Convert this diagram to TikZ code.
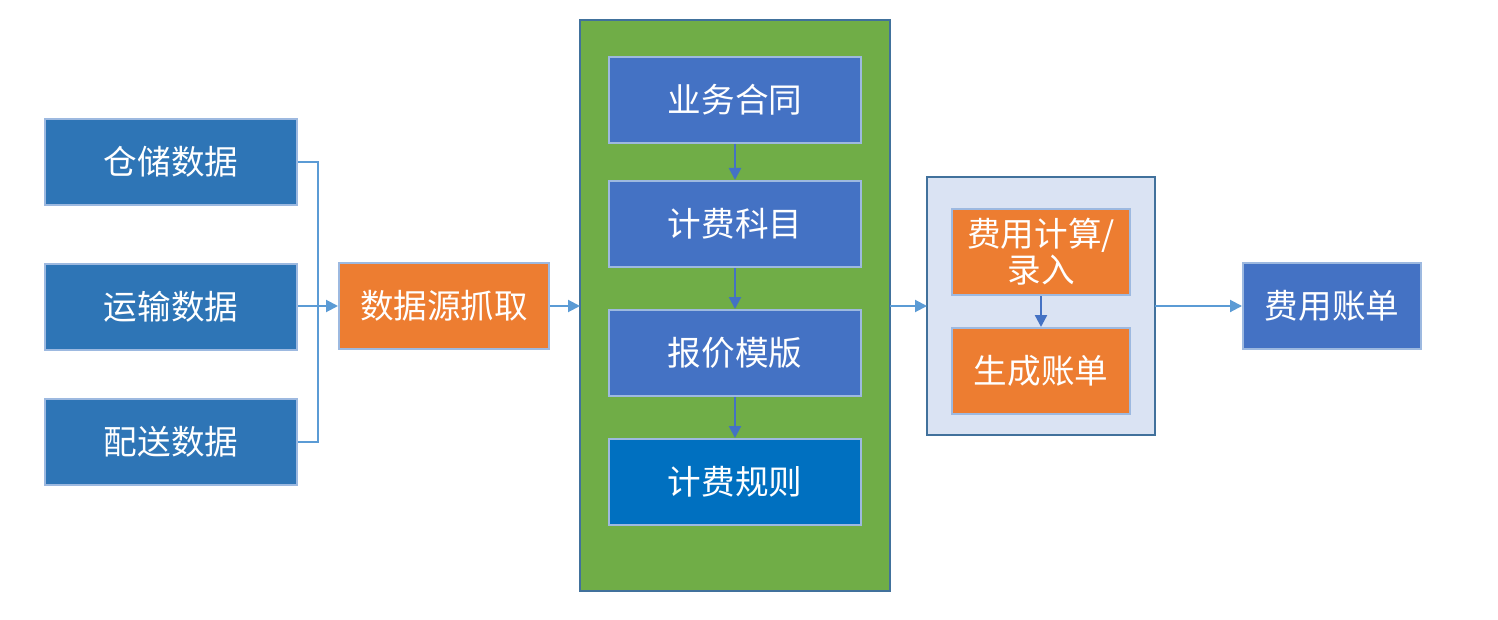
\documentclass[tikz,border=0pt]{standalone}
\usepackage{fontspec}
\setmainfont{Noto Sans CJK SC}
\usetikzlibrary{arrows.meta,positioning}
\definecolor{dblue}{HTML}{2E75B6}
\definecolor{mblue}{HTML}{4472C4}
\definecolor{rblue}{HTML}{0070C0}
\definecolor{orng}{HTML}{ED7D31}
\definecolor{grn}{HTML}{70AD47}
\definecolor{lbl}{HTML}{DAE3F3}
\definecolor{bord}{HTML}{9DB9E0}
\definecolor{cbord}{HTML}{41719C}
\definecolor{ln}{HTML}{5B9BD5}
\tikzset{
  box/.style={draw=bord, line width=1pt, text=white, inner sep=0pt,
    font=\fontsize{16.8pt}{19pt}\selectfont, align=center},
  cont/.style={draw=cbord, line width=1pt},
  conn/.style={draw=ln, line width=1pt},
  arr/.style={conn, -{Triangle[length=6pt,width=6pt]}},
  varr/.style={draw=mblue, line width=1.2pt, -{Triangle[length=6pt,width=6pt]}}
}
\begin{document}
\begin{tikzpicture}[x=0.5pt,y=-0.5pt]
\useasboundingbox[fill=white] (0,0) rectangle (1498,620);
% containers
\draw[cont, fill=grn] (580,20) rectangle (890,591);
\coordinate (Gw) at (580,306);
\coordinate (Ge) at (890,306);
\draw[cont, fill=lbl] (927,177) rectangle (1155,435);
\coordinate (Lw) at (927,306);
\coordinate (Le) at (1155,306);
% left boxes
\node[box, fill=dblue, minimum width=126pt, minimum height=43pt] (a) at (171,162) {仓储数据};
\node[box, fill=dblue, minimum width=126pt, minimum height=43pt] (b) at (171,307) {运输数据};
\node[box, fill=dblue, minimum width=126pt, minimum height=43pt] (c) at (171,441.5) {配送数据};
\node[box, fill=orng, minimum width=105pt, minimum height=43pt] (src) at (444,306) {数据源抓取};
% green column
\node[box, fill=mblue, minimum width=126pt, minimum height=43pt] (g1) at (735,100) {业务合同};
\node[box, fill=mblue, minimum width=126pt, minimum height=43pt] (g2) at (735,224) {计费科目};
\node[box, fill=mblue, minimum width=126pt, minimum height=43pt] (g3) at (735,353) {报价模版};
\node[box, fill=rblue, minimum width=126pt, minimum height=43pt] (g4) at (735,482) {计费规则};
% light container
\node[box, fill=orng, minimum width=89pt, minimum height=43pt, font=\fontsize{16.8pt}{18pt}\selectfont] (f1) at (1041,252) {费用计算/\\录入};
\node[box, fill=orng, minimum width=89pt, minimum height=43pt] (f2) at (1041,371) {生成账单};
% final
\node[box, fill=mblue, minimum width=89pt, minimum height=43pt] (bill) at (1332,306) {费用账单};
% connectors
\coordinate (J) at (318,306);
\draw[conn] (a.east) -| (J);
\draw[conn] (c.east) -| (J);
\draw[arr] (b.east |- J) -- (src.west);
\draw[arr] (src.east) -- (Gw);
\draw[arr] (Ge) -- (Lw);
\draw[arr] (Le) -- (bill.west);
\draw[varr] (g1.south) -- (g2.north);
\draw[varr] (g2.south) -- (g3.north);
\draw[varr] (g3.south) -- (g4.north);
\draw[varr] (f1.south) -- (f2.north);
\end{tikzpicture}
\end{document}
